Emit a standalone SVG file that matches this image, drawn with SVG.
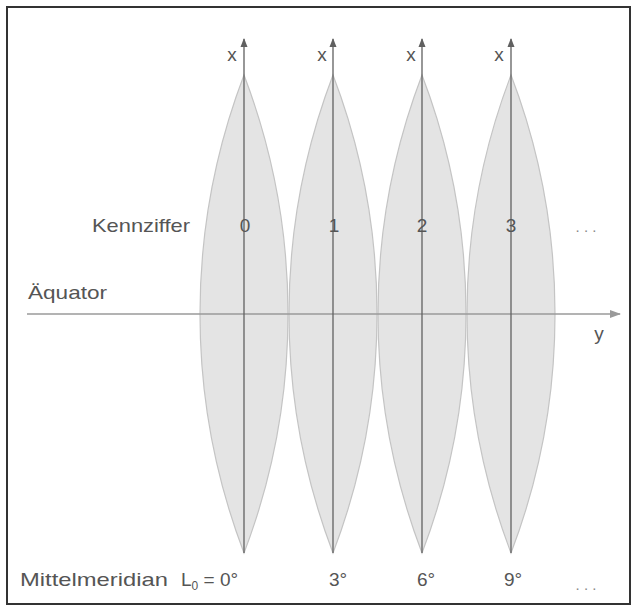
<svg xmlns="http://www.w3.org/2000/svg" width="636" height="611" viewBox="0 0 636 611">
<style>
.lens{fill:#e4e4e4;stroke:#c4c4c4;stroke-width:1.2}
.ax{stroke:#606060;stroke-width:1.3;fill:none}
.eq{stroke:#9a9a9a;stroke-width:1.5;fill:none}
text{font-family:"Liberation Sans",Arial,sans-serif;font-size:19px;fill:#555}
.c{text-anchor:middle}
.dots{font-size:15px;fill:#888}
</style>
<defs>
<marker id="ah" markerWidth="10" markerHeight="10" refX="8" refY="5" orient="auto" markerUnits="userSpaceOnUse">
<path d="M0,1.5 L9,5 L0,8.5 Z" fill="#606060"/>
</marker>
<marker id="ahe" markerWidth="12" markerHeight="10" refX="10" refY="5" orient="auto" markerUnits="userSpaceOnUse">
<path d="M0,1 L11,5 L0,9 Z" fill="#9a9a9a"/>
</marker>
</defs>
<rect x="7" y="7" width="623" height="597" fill="#fff" stroke="#333" stroke-width="2"/>
<g id="lens0"><path class="lens" d="M244,75 A671,671 0 0 1 244,553 A671,671 0 0 1 244,75 Z"/></g>
<g id="lens1"><path class="lens" d="M333,75 A671,671 0 0 1 333,553 A671,671 0 0 1 333,75 Z"/></g>
<g id="lens2"><path class="lens" d="M422,75 A671,671 0 0 1 422,553 A671,671 0 0 1 422,75 Z"/></g>
<g id="lens3"><path class="lens" d="M511,75 A671,671 0 0 1 511,553 A671,671 0 0 1 511,75 Z"/></g>
<g id="connectors">
<line class="eq" x1="27" y1="314" x2="620" y2="314" marker-end="url(#ahe)"/>
<line class="ax" x1="244" y1="553" x2="244" y2="39" marker-end="url(#ah)"/>
<line class="ax" x1="333" y1="553" x2="333" y2="39" marker-end="url(#ah)"/>
<line class="ax" x1="422" y1="553" x2="422" y2="39" marker-end="url(#ah)"/>
<line class="ax" x1="511" y1="553" x2="511" y2="39" marker-end="url(#ah)"/>
</g>
<g id="labels">
<text x="232" y="61" class="c" font-size="17">x</text>
<text x="322" y="61" class="c" font-size="17">x</text>
<text x="411" y="61" class="c" font-size="17">x</text>
<text x="499" y="61" class="c" font-size="17">x</text>
<text x="599" y="340" class="c" font-size="17">y</text>
<text x="92" y="232" textLength="98" lengthAdjust="spacingAndGlyphs">Kennziffer</text>
<text x="245" y="232" class="c">0</text>
<text x="334" y="232" class="c">1</text>
<text x="422" y="232" class="c">2</text>
<text x="511" y="232" class="c">3</text>
<text x="586" y="232" class="c dots">. . .</text>
<text x="28" y="299" textLength="79" lengthAdjust="spacingAndGlyphs">Äquator</text>
<text x="20" y="586" textLength="148" lengthAdjust="spacingAndGlyphs">Mittelmeridian</text>
<text x="181" y="586">L<tspan font-size="12" dy="4">0</tspan><tspan dy="-4"> = 0°</tspan></text>
<text x="338" y="586" class="c">3°</text>
<text x="426" y="586" class="c">6°</text>
<text x="513" y="586" class="c">9°</text>
<text x="586" y="590" class="c dots">. . .</text>
</g>
</svg>
